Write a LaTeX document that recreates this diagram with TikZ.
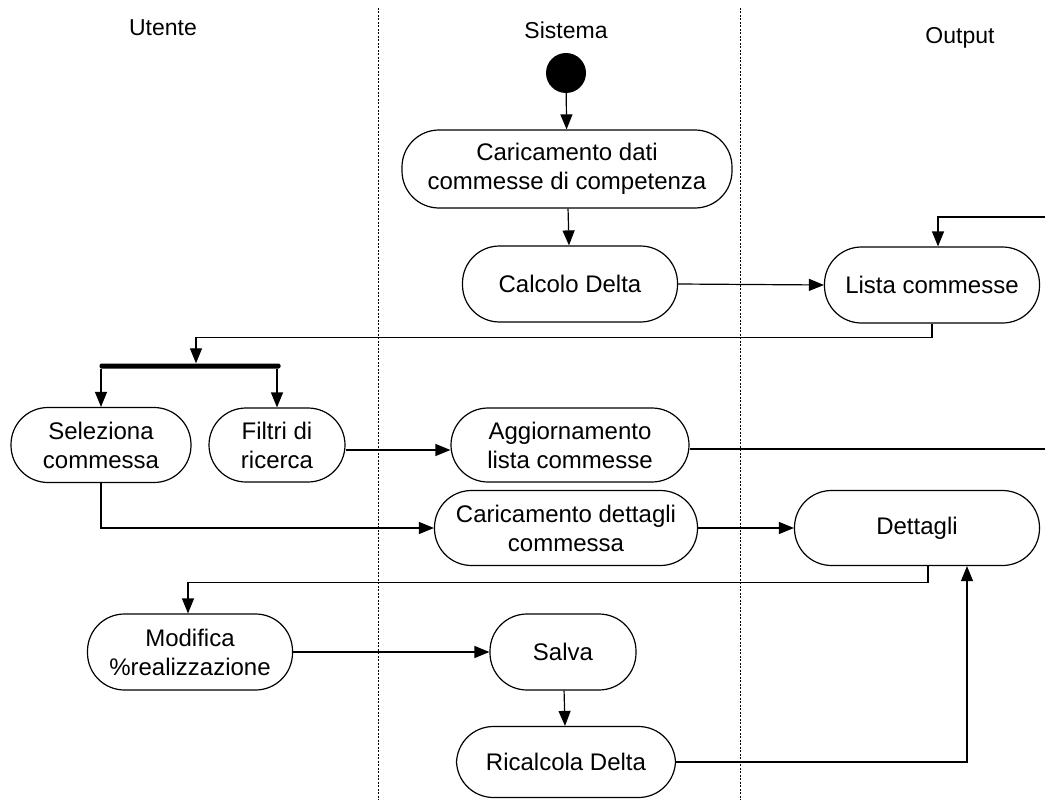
\documentclass[tikz,border=0pt]{standalone}
\usepackage{fontspec}
\setmainfont{Liberation Sans}
\usetikzlibrary{arrows.meta,calc}
\begin{document}
\begin{tikzpicture}[x=1pt,y=-1pt,
  every node/.style={font=\fontsize{24}{29}\selectfont},
  act/.style={draw, line width=1.2pt, rounded corners=37pt, align=center, inner sep=0pt, fill=white},
  flow/.style={line width=1.2pt, -{Triangle[length=15pt,width=12pt]}},
  plain/.style={line width=1.2pt},
  lane/.style={line width=0.8pt, dash pattern=on 2pt off 1.5pt},
  lanelabel/.style={font=\fontsize{23}{27}\selectfont}]
\useasboundingbox (0,0) rectangle (1045,800);

% swimlane separators and headers
\draw[lane] (378,8) -- (378,800);
\draw[lane] (740,8) -- (740,800);
\node[lanelabel] (hU) at (163,28) {Utente};
\node[lanelabel] (hS) at (566,30) {Sistema};
\node[lanelabel] (hO) at (960,38) {Output};

% activities
\node[circle, fill=black, minimum size=40pt, inner sep=0pt] (start) at (566,73) {};
\node[act, minimum width=330pt, minimum height=78pt] (carica) at (567,169) {Caricamento dati\\commesse di competenza};
\node[act, minimum width=215pt, minimum height=76pt] (calc) at (570,284) {Calcolo Delta};
\node[act, minimum width=215pt, minimum height=76pt] (lista) at (932,285) {Lista commesse};
\node[fill=black, minimum width=181pt, minimum height=5pt, inner sep=0pt, rounded corners=2pt] (fork) at (190,366) {};
\node[act, minimum width=180pt, minimum height=75pt] (sel) at (101,445) {Seleziona\\commessa};
\node[act, minimum width=136pt, minimum height=74pt] (filtri) at (277,445) {Filtri di\\ricerca};
\node[act, minimum width=238pt, minimum height=74pt] (agg) at (570,445) {Aggiornamento\\lista commesse};
\node[act, minimum width=263pt, minimum height=75pt] (cdet) at (566,528) {Caricamento dettagli\\commessa};
\node[act, minimum width=245pt, minimum height=75pt] (det) at (917,528) {Dettagli};
\node[act, minimum width=205pt, minimum height=76pt] (mod) at (190,652) {Modifica\\\%realizzazione};
\node[act, minimum width=146pt, minimum height=76pt] (salva) at (563,652) {Salva};
\node[act, minimum width=219pt, minimum height=71pt] (ric) at (566,762) {Ricalcola Delta};

% free ends at the right border
\coordinate (inTop) at (1045,217);
\coordinate (outAgg) at (1045,441);

% connectors
\draw[flow] (start) -- (carica);
\draw[flow] (carica) -- (calc);
\draw[flow] (calc.east) -- (lista.west);
\draw[flow] (inTop) -| ([xshift=6pt]lista.north);
\draw[flow] (lista.south) -- ++(0,14) -| ([xshift=6pt]fork.north);
\draw[flow] (fork.south -| sel.north) -- (sel.north);
\draw[flow] (fork.south -| filtri.north) -- (filtri.north);
\draw[flow] ([yshift=-5pt]filtri.east) -- ([yshift=-5pt]agg.west);
\draw[plain] ([yshift=-4pt]agg.east) -- ([yshift=-4pt]agg.east -| outAgg);
\draw[flow] (sel.south) |- (cdet.west);
\draw[flow] (cdet.east) -- (det.west);
\draw[flow] ([xshift=11pt]det.south) -- ++(0,16) -| ([xshift=-2pt]mod.north);
\draw[flow] (mod.east) -- (salva.west);
\draw[flow] (salva) -- (ric);
\draw[flow] (ric.east) -| ([xshift=50pt]det.south);
\end{tikzpicture}
\end{document}
